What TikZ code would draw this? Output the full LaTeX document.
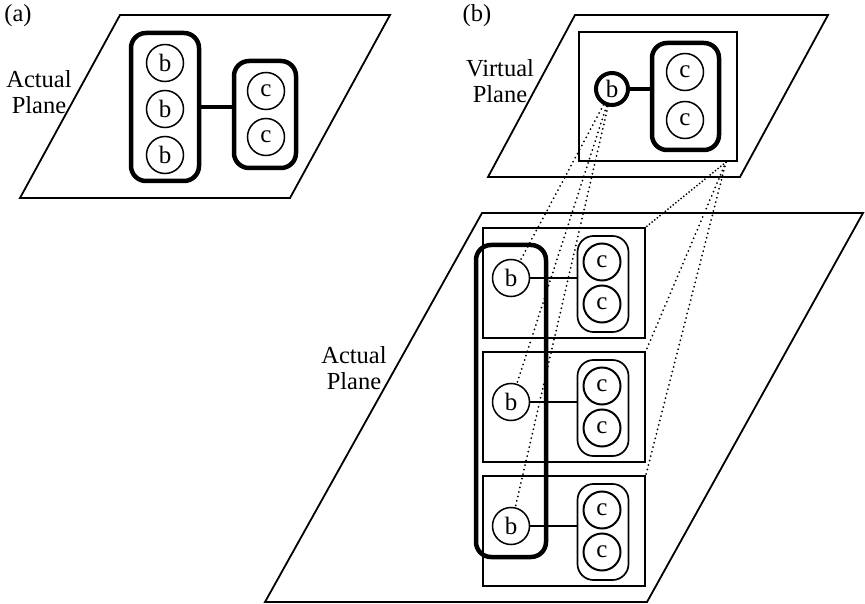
\documentclass[tikz,border=0pt]{standalone}
\usepackage{fontspec}
\setmainfont{Liberation Serif}
\begin{document}
\begin{tikzpicture}[x=1pt,y=-1pt,
  plane/.style={draw, line width=1.8pt, line join=miter},
  lbl/.style={align=center, inner sep=0pt, font=\fontsize{24.5}{25.5}\selectfont},
  circ/.style={circle, draw, line width=1.5pt, minimum size=37pt, inner sep=0pt,
    font=\fontsize{25}{25}\selectfont},
  ccirc/.style={circ, line width=2pt},
  vcirc/.style={circ, line width=4pt, minimum size=32pt},
  heavybox/.style={draw, line width=4.5pt, rounded corners=15pt, inner sep=0pt},
  pillbox/.style={draw, line width=1.7pt, rounded corners=16pt, inner sep=0pt,
    minimum width=51pt, minimum height=96pt},
  framebox/.style={draw, line width=1.7pt, inner sep=0pt,
    minimum width=162pt, minimum height=110pt},
  link/.style={line width=1.6pt},
  heavylink/.style={line width=4pt},
  dots/.style={line width=2pt, line cap=round, dash pattern=on 0pt off 4.6pt},
  densedots/.style={line width=2pt, line cap=round, dash pattern=on 0pt off 3.4pt}
]
\useasboundingbox (0,0) rectangle (865,604);

% ---------- (a) actual plane ----------
\node[lbl] (la) at (18,16) {(a)};
\draw[plane] (120,15) -- (390,15) -- (290,198) -- (20,198) -- cycle;
\node[lbl] (aplaneA) at (39,92) {Actual\\Plane};

\node[heavybox, minimum width=68pt, minimum height=148pt] (abox) at (165,107) {};
\node[circ] (ab1) at (165,63) {b};
\node[circ] (ab2) at (165,109) {b};
\node[circ] (ab3) at (165,155) {b};
\node[heavybox, minimum width=62pt, minimum height=107pt] (acbox) at (265,114.5) {};
\node[circ] (ac1) at (266,91) {c};
\node[circ] (ac2) at (266,137) {c};
\draw[heavylink] (abox.east |- 0,107) -- (acbox.west |- 0,107);

% ---------- (b) virtual plane ----------
\node[lbl] (lb) at (477,16) {(b)};
\draw[plane] (575,15) -- (828,15) -- (740,177) -- (488,177) -- cycle;
\node[lbl] (vplane) at (500,81) {Virtual\\Plane};

\node[framebox, minimum width=158pt, minimum height=129pt] (vrect) at (658,96.5) {};
\node[vcirc] (vb) at (612,89) {b};
\node[heavybox, minimum width=67pt, minimum height=107pt] (vcbox) at (685.5,96.5) {};
\node[circ] (vc1) at (685,72) {c};
\node[circ] (vc2) at (685,120) {c};
\draw[heavylink] (vb.east) -- (vb.east -| vcbox.west);
\coordinate (vtip) at (726,162);

% ---------- (b) actual plane ----------
\draw[plane] (482,213) -- (863,213) -- (647,602) -- (265,602) -- cycle;
\node[lbl] (aplaneB) at (354,368) {Actual\\Plane};

\foreach \i/\t in {1/228, 2/352, 3/476} {
  \node[framebox] (box\i) at (564,\t+55) {};
  \node[circ] (b\i) at (511,\t+50) {b};
  \node[pillbox] (cb\i) at (603,\t+56) {};
  \node[ccirc] (c\i a) at (602,\t+34) {c};
  \node[ccirc] (c\i b) at (602,\t+76) {c};
  \draw[link] (b\i.east) -- (b\i.east -| cb\i.west);
}
\node[heavybox, minimum width=70pt, minimum height=312pt] (bcol) at (511,401) {};

% ---------- mapping between the planes ----------
\draw[dots] (vb) -- (b1);
\draw[dots] (vb) -- (b2);
\draw[dots] (vb) -- (b3);
\draw[densedots] (vtip) -- (box1.north east);
\draw[dots] (vtip) -- (box2.north east);
\draw[dots] (vtip) -- (box3.north east);
\end{tikzpicture}
\end{document}
